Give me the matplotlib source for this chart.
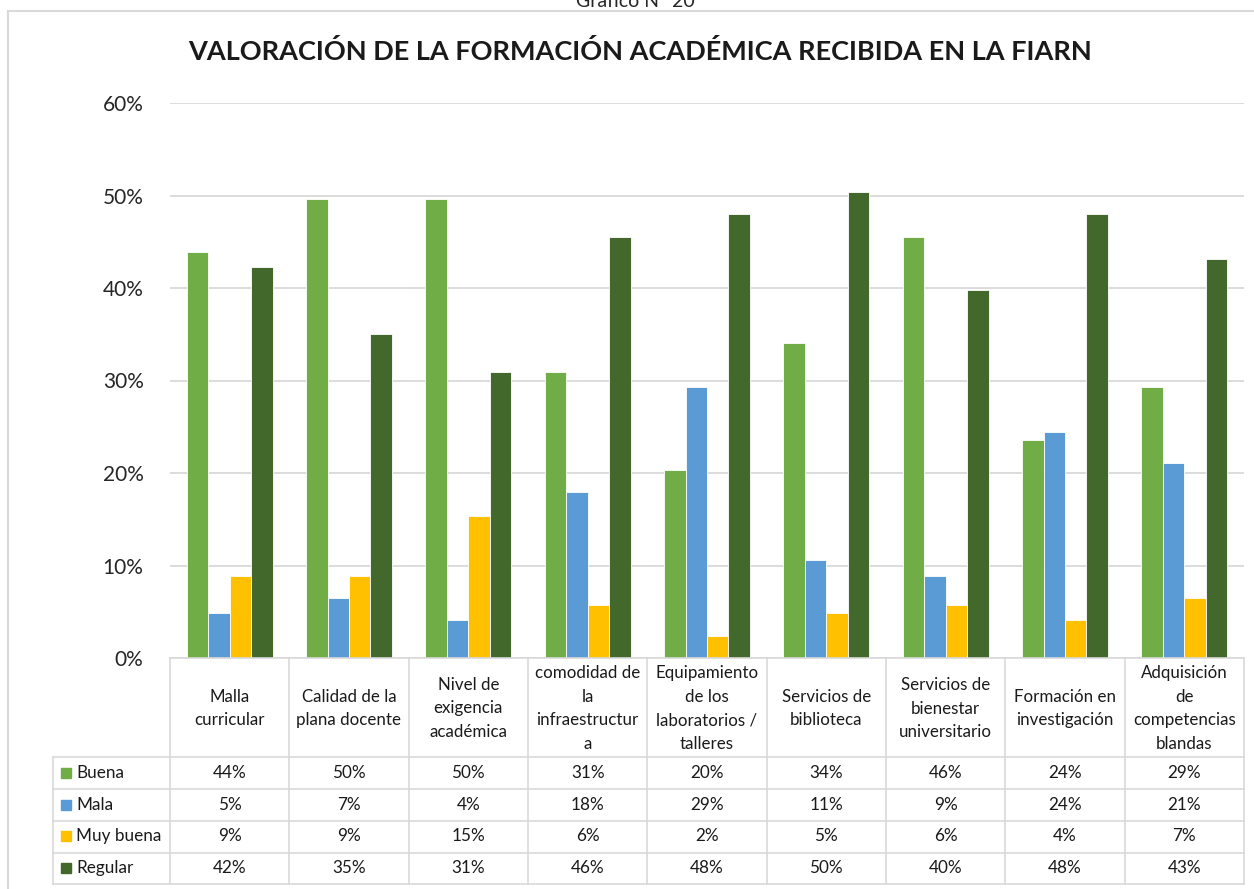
import matplotlib
matplotlib.use("Agg")
import matplotlib.pyplot as plt
import numpy as np

# data (percent of respondents)
categories = [
    "Malla\ncurricular",
    "Calidad de la\nplana docente",
    "Nivel de\nexigencia\nacadémica",
    "comodidad de\nla\ninfraestructur\na",
    "Equipamiento\nde los\nlaboratorios /\ntalleres",
    "Servicios de\nbiblioteca",
    "Servicios de\nbienestar\nuniversitario",
    "Formación en\ninvestigación",
    "Adquisición\nde\ncompetencias\nblandas",
]
series_names = ["Buena", "Mala", "Muy buena", "Regular"]
buena = [43.9, 49.6, 49.6, 30.9, 20.3, 34.1, 45.5, 23.6, 29.3]
mala = [4.9, 6.5, 4.1, 17.9, 29.3, 10.6, 8.9, 24.4, 21.1]
muy_buena = [8.9, 8.9, 15.4, 5.7, 2.4, 4.9, 5.7, 4.1, 6.5]
regular = [42.3, 35.0, 30.9, 45.5, 48.0, 50.4, 39.8, 48.0, 43.1]
colors = ["#70AD47", "#5B9BD5", "#FFC000", "#43682B"]
yticks = [0, 10, 20, 30, 40, 50, 60]

title = "VALORACIÓN DE LA FORMACIÓN ACADÉMICA RECIBIDA EN LA FIARN"
caption = "Gráfico N° 20"

plt.rcParams['font.family'] = ['Lato', 'DejaVu Sans']

W, H = 1254, 889
fig = plt.figure(figsize=(W / 100, H / 100), dpi=100)

# plot area in pixels
left, right, top, bottom = 170, 1244, 103, 658
ax = fig.add_axes([left / W, 1 - bottom / H, (right - left) / W, (bottom - top) / H])

all_series = [buena, mala, muy_buena, regular]
n = len(categories)
x = np.arange(n)
bw = 0.18
for k, vals in enumerate(all_series):
    ax.bar(x + (k - 1.5) * bw, vals, width=bw, color=colors[k],
           edgecolor="white", linewidth=0.6, zorder=3)

ax.set_xlim(-0.5, n - 0.5)
ax.set_ylim(0, 60)
ax.set_yticks(yticks)
ax.set_yticklabels([f"{v}%" for v in yticks], fontsize=15, color="#262626")
ax.set_xticks([])
ax.tick_params(axis="y", length=0, pad=19)
ax.yaxis.grid(True, color="#D9D9D9", linewidth=1.3, zorder=0)
for s in ax.spines.values():
    s.set_visible(False)

# overlay axes in pixel coordinates for the data table and frame
ov = fig.add_axes([0, 0, 1, 1])
ov.set_xlim(0, W)
ov.set_ylim(H, 0)
ov.axis("off")
ov.patch.set_alpha(0)

grid_c = "#D9D9D9"
lw = 1.2

# outer chart frame
ov.plot([8, 8], [11, H], color=grid_c, lw=1.5)
ov.plot([8, W], [11, 11], color=grid_c, lw=1.5)

ov.text(635, 7, caption, ha="center", va="baseline", fontsize=14, color="#262626")
ov.text(640, 52, title, ha="center", va="center", fontsize=19.5,
        fontweight="bold", color="#1a1a1a")

# table geometry
colw = (right - left) / n
head_bot = 757
row_h = 32
leg_left = 53
row_tops = [head_bot + i * row_h for i in range(len(series_names))]
table_bot = 884

ov.plot([left, right], [bottom, bottom], color=grid_c, lw=lw)
for yy in row_tops + [table_bot]:
    ov.plot([leg_left, right], [yy, yy], color=grid_c, lw=lw)
ov.plot([leg_left, leg_left], [head_bot, table_bot], color=grid_c, lw=lw)
for i in range(n + 1):
    xx = left + i * colw
    ov.plot([xx, xx], [bottom, table_bot], color=grid_c, lw=lw)

# header labels
for i, lab in enumerate(categories):
    ov.text(left + (i + 0.5) * colw, (bottom + head_bot) / 2 + 1, lab,
            ha="center", va="center", fontsize=12.2, linespacing=1.6,
            color="#1a1a1a")

# series rows
hr = (table_bot - head_bot) / len(series_names)
for k, name in enumerate(series_names):
    yc = head_bot + (k + 0.5) * hr
    ov.add_patch(plt.Rectangle((61, yc - 5), 10, 10, color=colors[k]))
    ov.text(76, yc, name, ha="left", va="center", fontsize=12.3, color="#1a1a1a")
    for i, v in enumerate(all_series[k]):
        ov.text(left + (i + 0.5) * colw, yc, f"{int(v + 0.5)}%",
                ha="center", va="center", fontsize=12.3, color="#1a1a1a")

fig.savefig("out.png", dpi=100)
